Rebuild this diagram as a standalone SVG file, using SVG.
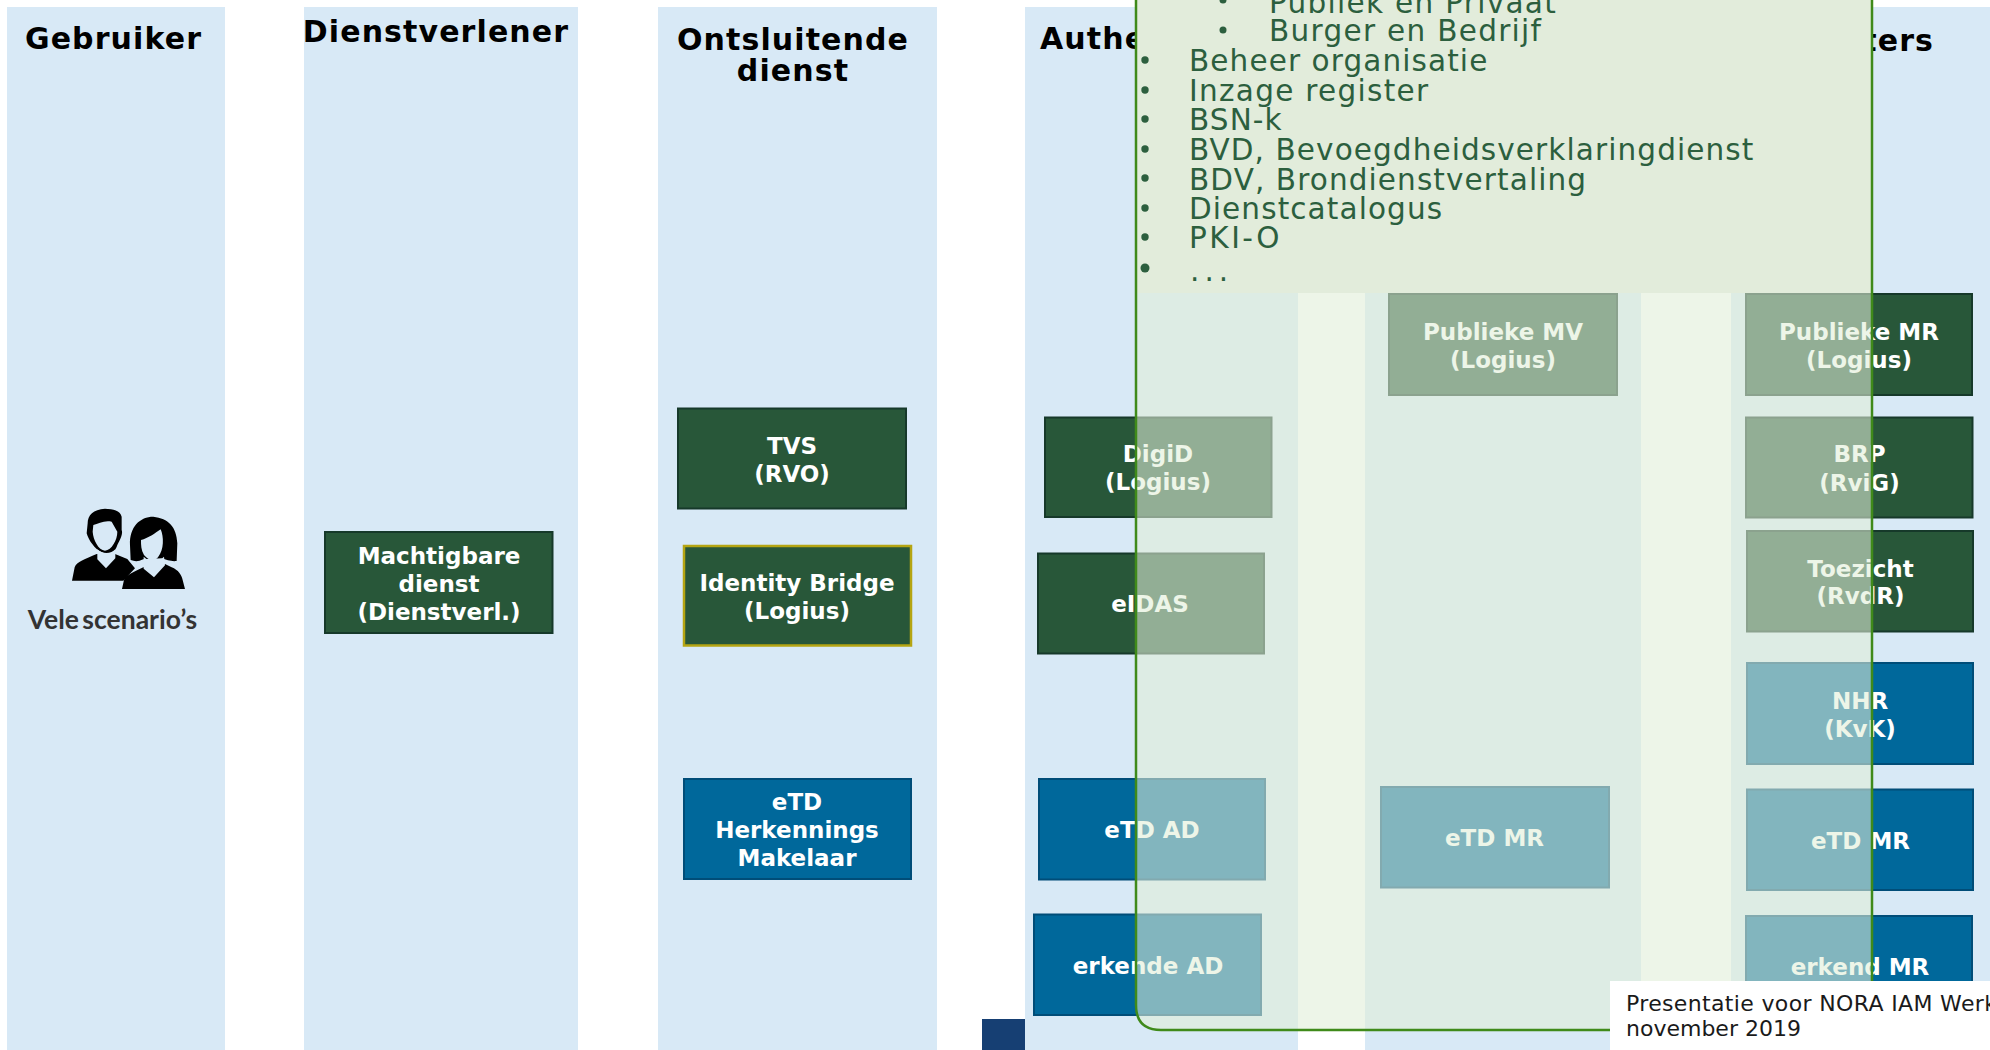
<svg xmlns="http://www.w3.org/2000/svg" width="1990" height="1050" viewBox="0 0 1990 1050">
<style>
.col{fill:#d8e9f6}
.h{font:bold 30px "DejaVu Sans",sans-serif;fill:#000;text-anchor:middle;letter-spacing:1.1px}
.n rect{stroke-width:2}
.g rect{fill:#285739;stroke:#16392a}
.b rect{fill:#00689b;stroke:#004d78}
.n text{font:bold 23px "DejaVu Sans",sans-serif;fill:#fff;text-anchor:middle}
.l{font:29.500px "DejaVu Sans",sans-serif;fill:#2c5f3e;letter-spacing:1.100px}
.f{font:22px "DejaVu Sans",sans-serif;fill:#1a1a1a}
</style>
<g id="columns">
<rect class="col" x="7" y="7" width="218" height="1043"/>
<rect class="col" x="304" y="7" width="274" height="1043"/>
<rect class="col" x="658" y="7" width="279" height="1043"/>
<rect class="col" x="1025" y="7" width="273" height="1043"/>
<rect class="col" x="1365" y="7" width="276" height="1043"/>
<rect class="col" x="1731" y="7" width="259" height="1043"/>
<rect x="982" y="1019" width="43" height="31" fill="#163f73"/>
</g>
<g id="headers">
<text class="h" x="113.500" y="48.500">Gebruiker</text>
<text class="h" x="436" y="42">Dienstverlener</text>
<text class="h" x="793" y="49.500">Ontsluitende</text>
<text class="h" x="793" y="80.500">dienst</text>
<text class="h" x="1040" y="48.500" style="text-anchor:start">Authe</text>
<text class="h" x="1934" y="50.500" style="text-anchor:end">ters</text>
</g>
<g id="icon-gebruiker" transform="translate(40 490) scale(.3333)">
<path fill="#000" d="M96,272 L104,232 C110,215 135,208 170,192 L225,192 L262,207 L285,235 L250,272Z"/>
<path fill="#000" d="M143,100 C143,75 160,58 195,56 C220,58 240,60 245,80 L245,120 C250,130 240,150 232,165 C225,190 205,197 185,187 C165,178 145,150 140,130Z"/>
<path fill="#d8e9f6" d="M160,105 C175,100 195,90 215,95 L232,125 C232,150 215,180 195,182 C175,180 160,150 158,125Z"/>
<path fill="#d8e9f6" d="M172,178 L172,208 L198,235 L226,205 L226,178 C215,190 190,195 172,178Z"/>
<path fill="#000" d="M246,297 L252,270 C258,255 285,245 310,232 L375,222 L395,232 C415,240 425,255 428,270 L435,297Z"/>
<path fill="#000" d="M270,165 C268,110 300,80 340,80 C385,85 410,110 412,160 L410,213 C395,215 380,210 365,205 L310,208 C295,215 285,215 272,210Z"/>
<path fill="#d8e9f6" d="M303,150 C325,145 345,130 362,118 C372,140 372,180 355,200 C345,215 325,212 312,195 C303,180 303,165 303,150Z"/>
<path fill="#d8e9f6" d="M311,200 L311,236 L342,262 L375,226 L372,200 C355,218 330,218 311,200Z"/>
</g>
<text id="gebruiker-label" x="112.500" y="629" text-anchor="middle" word-spacing="-3" style="font:bold 26.500px Lato,sans-serif;fill:#333">Vele scenario’s</text>
<g id="machtigbare" class="n g"><rect x="325" y="532" width="227.500" height="101"/><text x="439" y="563.500">Machtigbare</text><text x="439" y="592">dienst</text><text x="439" y="619.500">(Dienstverl.)</text></g>
<g id="tvs" class="n g"><rect x="678" y="408.500" width="228" height="100"/><text x="792" y="454">TVS</text><text x="792" y="482">(RVO)</text></g>
<g id="identity-bridge" class="n g"><rect x="684" y="546" width="227" height="99.500" style="stroke:#b5a512;stroke-width:2.500"/><text x="797" y="590.500">Identity Bridge</text><text x="797" y="619">(Logius)</text></g>
<g id="etd-hm" class="n b"><rect x="684" y="779" width="227" height="100"/><text x="797" y="809.500">eTD</text><text x="797" y="838">Herkennings</text><text x="797" y="865.500">Makelaar</text></g>
<g id="digid" class="n g"><rect x="1045" y="417.500" width="226.500" height="99.500"/><text x="1158" y="462">DigiD</text><text x="1158" y="489.500">(Logius)</text></g>
<g id="eidas" class="n g"><rect x="1038" y="553.500" width="226" height="100"/><text x="1150" y="612">eIDAS</text></g>
<g id="etd-ad" class="n b"><rect x="1039" y="779" width="226" height="100.500"/><text x="1152" y="838">eTD AD</text></g>
<g id="erkende-ad" class="n b"><rect x="1034" y="914.500" width="227" height="100.500"/><text x="1148" y="973.500">erkende AD</text></g>
<g id="publieke-mv" class="n g"><rect x="1389" y="294" width="228" height="101"/><text x="1503" y="340">Publieke MV</text><text x="1503" y="368">(Logius)</text></g>
<g id="etd-mr-mid" class="n b"><rect x="1381" y="787" width="228" height="100.500"/><text x="1494.500" y="846">eTD MR</text></g>
<g id="publieke-mr" class="n g"><rect x="1746" y="294" width="226" height="101"/><text x="1859" y="340">Publieke MR</text><text x="1859" y="368">(Logius)</text></g>
<g id="brp" class="n g"><rect x="1746" y="417.500" width="226.500" height="100"/><text x="1859.500" y="462">BRP</text><text x="1859.500" y="490.500">(RviG)</text></g>
<g id="toezicht" class="n g"><rect x="1747" y="531" width="226" height="100.500"/><text x="1860.500" y="576.500">Toezicht</text><text x="1860.500" y="603.500">(RvdR)</text></g>
<g id="nhr" class="n b"><rect x="1747" y="663" width="226" height="101"/><text x="1860" y="708.500">NHR</text><text x="1860" y="736.500">(KvK)</text></g>
<g id="etd-mr" class="n b"><rect x="1747" y="789.500" width="226" height="100.500"/><text x="1860.500" y="849">eTD MR</text></g>
<g id="erkend-mr" class="n b"><rect x="1746" y="916" width="226" height="101"/><text x="1860" y="975">erkend MR</text></g>
<g id="overlay">
<path d="M1136,-20 H1872 V1030 H1161 Q1136,1030 1136,1005Z" fill="#e0eed8" fill-opacity=".58" stroke="none"/>
<rect x="1136" y="-20" width="736" height="313" fill="#e2ecdb"/>
<path d="M1872,-20 V1030 H1161 Q1136,1030 1136,1005 V-20" fill="none" stroke="#3f8a1a" stroke-width="2.500"/>
<g class="l">
<text x="1269" y="12.500" letter-spacing="1.300">Publiek en Privaat</text>
<text x="1269" y="41" letter-spacing="1.300">Burger en Bedrijf</text>
<text x="1189" y="70.500">Beheer organisatie</text>
<text x="1189" y="100.500" letter-spacing="1.300">Inzage register</text>
<text x="1189" y="130">BSN-k</text>
<text x="1189" y="160">BVD, Bevoegdheidsverklaringdienst</text>
<text x="1189" y="189.500">BDV, Brondienstvertaling</text>
<text x="1189" y="219">Dienstcatalogus</text>
<text x="1189" y="248" letter-spacing="2.500">PKI-O</text>
<text x="1190" y="281" letter-spacing="5">...</text>
</g>
<g fill="#2c5f3e">
<circle cx="1223" cy="0" r="3.500"/><circle cx="1223" cy="30" r="3.500"/>
<circle cx="1145" cy="60" r="3.700"/><circle cx="1145" cy="90" r="3.700"/><circle cx="1145" cy="119" r="3.700"/><circle cx="1145" cy="149" r="3.700"/><circle cx="1145" cy="178" r="3.700"/><circle cx="1145" cy="208" r="3.700"/><circle cx="1145" cy="237" r="3.700"/><circle cx="1145" cy="268" r="4.500"/>
</g>
</g>
<g id="footer">
<rect x="1610" y="981" width="380" height="69" fill="#fff"/>
<text class="f" x="1626" y="1011" letter-spacing=".35">Presentatie voor NORA IAM Werk</text>
<text class="f" x="1626" y="1036">november 2019</text>
</g>
</svg>
